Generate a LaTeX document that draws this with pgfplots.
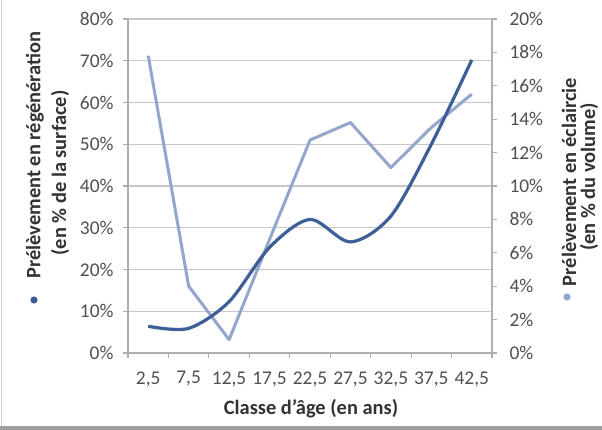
\documentclass[border=0pt]{standalone}
\usepackage{pgfplots}
\usepackage{pgfplotstable}
\pgfplotsset{compat=1.18}
\usepackage{fontspec}
\setmainfont{Carlito}

\definecolor{regen}{RGB}{62,94,152}
\definecolor{eclair}{RGB}{146,166,206}
\definecolor{gridc}{RGB}{200,200,200}
\definecolor{axisc}{RGB}{175,175,175}
\definecolor{tickc}{RGB}{80,80,80}
\definecolor{titlec}{RGB}{50,50,50}
\definecolor{framec}{RGB}{205,205,205}
\definecolor{bandc}{RGB}{160,160,160}

% Prélèvement par classe d'âge : régénération (% surface), éclaircie (% volume)
\pgfplotstableread{
x regen eclair
0 6.4  17.8
1 5.9  4.0
2 12.3 0.8
3 25.3 6.8
4 32.0 12.75
5 26.6 13.8
6 32.8 11.1
7 50.0 13.5
8 70.2 15.5
}\agedata

\pgfplotsset{
  base/.style={
    at={(128bp,77bp)}, anchor=south west, scale only axis,
    width=364bp, height=334bp, xmin=-0.5, xmax=8.5,
  },
  every tick label/.append style={font=\fontsize{19.5}{22}\selectfont, text=tickc},
}

\begin{document}
\begin{tikzpicture}
\useasboundingbox (0,0) rectangle (602bp,430bp);
\fill[white] (0,0) rectangle (602bp,430bp);
\draw[framec, line width=1.5bp] (1.5bp,4bp) -- (1.5bp,430bp);
\fill[bandc] (0,0) rectangle (602bp,4bp);

% primary axis: grid, left scale and categories
\begin{axis}[base, ymin=0, ymax=80,
  axis x line*=bottom, axis y line*=left,
  axis line style={axisc, line width=1.2bp},
  tick align=outside, major tick length=5bp,
  tick style={axisc, line width=1.2bp},
  xtick={-0.5,0.5,...,8.5}, xticklabels={},
  extra x ticks={0,1,2,3,4,5,6,7,8},
  extra x tick labels={{2,5},{7,5},{12,5},{17,5},{22,5},{27,5},{32,5},{37,5},{42,5}},
  extra x tick style={major tick length=0pt},
  xticklabel style={yshift=-15bp},
  ytick={0,10,...,80},
  yticklabels={0\%,10\%,20\%,30\%,40\%,50\%,60\%,70\%,80\%},
  yticklabel style={xshift=-6bp},
  ymajorgrids, grid style={gridc, line width=1.2bp},
]
\end{axis}

% secondary axis: thinning share
\begin{axis}[base, ymin=0, ymax=20,
  axis y line*=right, axis x line=none,
  axis line style={axisc, line width=1.2bp},
  tick align=outside, major tick length=5bp,
  tick style={axisc, line width=1.2bp},
  ytick={0,2,...,20},
  yticklabels={0\%,2\%,4\%,6\%,8\%,10\%,12\%,14\%,16\%,18\%,20\%},
  yticklabel style={xshift=9bp},
]
\addplot[eclair, line width=3bp, line join=round] table[x=x, y=eclair]{\agedata};
\end{axis}

% regeneration share, smoothed, on the primary scale
\begin{axis}[base, ymin=0, ymax=80, hide axis]
\addplot[regen, line width=3.2bp, smooth, tension=0.5] table[x=x, y=regen]{\agedata};
\end{axis}

% axis titles and legend keys
\begin{scope}[every node/.style={text=titlec, font=\fontsize{20.5}{24}\selectfont\bfseries, inner sep=0pt}]
\node[rotate=90] at (35bp,275bp) {Prélèvement en régénération};
\node[rotate=90] at (60bp,257bp) {(en \% de la surface)};
\node[rotate=90] at (569bp,248bp) {Prélèvement en éclaircie};
\node[rotate=90] at (589bp,253bp) {(en \% du volume)};
\node at (311bp,21bp) {Classe d'âge (en ans)};
\end{scope}
\fill[regen] (34bp,130bp) circle (3.6bp);
\fill[eclair] (567bp,133bp) circle (3.6bp);
\end{tikzpicture}
\end{document}
